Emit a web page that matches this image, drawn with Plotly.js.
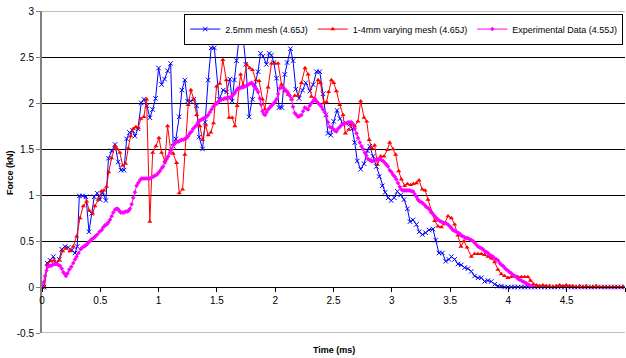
<!DOCTYPE html>
<html>
<head>
<meta charset="utf-8">
<script src="https://cdn.plot.ly/plotly-3.0.1.min.js"></script>
<style>html,body{margin:0;padding:0;background:#fff;}#chart{width:626px;height:358px;}</style>
</head>
<body>
<div id="chart"></div>
<script>
// ---------- DATA (time in ms, force in kN) ----------
var seriesNames = ['2.5mm mesh (4.65J)', '1-4mm varying mesh (4.65J)', 'Experimental Data (4.55J)'];

var meshTime = [0,0.017,0.045,0.069,0.097,0.120,0.148,0.169,0.197,0.225,
0.254,0.283,0.302,0.320,0.349,0.377,0.403,0.426,0.448,0.474,
0.497,0.520,0.548,0.570,0.597,0.626,0.654,0.677,0.703,0.726,
0.750,0.777,0.797,0.823,0.851,0.874,0.900,0.925,0.949,0.974,
1.000,1.026,1.051,1.077,1.103,1.125,1.148,1.177,1.200,1.225,
1.248,1.274,1.302,1.326,1.348,1.377,1.399,1.425,1.451,1.478,
1.519,1.554,1.583,1.611,1.631,1.650,1.668,1.697,1.725,1.748,
1.776,1.805,1.825,1.853,1.874,1.896,1.925,1.948,1.968,1.988,
2.011,2.033,2.057,2.082,2.102,2.131,2.153,2.177,2.205,2.234,
2.262,2.297,2.325,2.354,2.382,2.410,2.434,2.453,2.476,2.502,
2.530,2.556,2.582,2.611,2.639,2.661,2.682,2.704,2.733,2.762,
2.791,2.811,2.839,2.868,2.892,2.918,2.943,2.969,2.995,3.021,
3.048,3.076,3.105,3.134,3.156,3.182,3.211,3.236,3.262,3.290,
3.319,3.353,3.376,3.404,3.434,3.462,3.490,3.511,3.539,3.567,
3.596,3.625,3.653,3.682,3.710,3.739,3.768,3.796,3.824,3.853,
3.882,3.910,3.939,3.967,
3.996,4.025,4.053,4.082,4.111,4.139,4.167,4.196,4.225,4.253,
4.282,4.310,4.339,4.367,4.396,4.425,4.453,4.482,4.510,4.539,
4.567,4.596,4.625,4.653,4.682,4.710,4.739,4.767,4.796,4.825,
4.853,4.882,4.910,4.939,4.967,4.996];

var meshForce = [0,0,0.26,0.29,0.33,0.26,0.30,0.41,0.44,0.43,
0.40,0.37,0.44,0.99,0.99,0.98,0.60,0.80,0.98,1.02,
0.95,1.03,0.94,1.40,1.48,1.55,1.36,1.27,1.27,1.61,
1.68,1.70,1.64,1.72,2.00,2.04,1.97,1.84,1.93,2.05,
2.38,2.20,2.26,2.35,2.43,1.53,1.61,1.85,2.14,2.25,
2.02,2.02,2.04,1.97,1.63,1.50,1.79,2.25,2.60,2.60,
2.04,2.14,2.12,2.26,2.02,2.25,2.46,2.78,2.71,2.42,
1.85,2.04,2.20,2.34,2.54,2.51,2.42,2.54,2.52,2.44,
2.27,1.95,1.95,2.31,2.44,2.59,2.46,2.15,2.05,2.14,
2.22,2.13,2.20,2.34,2.34,2.10,1.87,1.67,1.65,1.80,
1.92,1.83,1.77,1.78,1.77,1.72,1.57,1.37,1.28,1.34,
1.48,1.53,1.42,1.31,1.20,1.10,1.03,0.97,0.94,0.97,
1.04,1.00,0.95,0.85,0.71,0.73,0.68,0.60,0.57,0.59,
0.62,0.63,0.51,0.37,0.37,0.28,0.30,0.33,0.30,0.25,
0.24,0.21,0.20,0.17,0.12,0.10,0.10,0.06,0.07,0.06,
0.03,0.01,0.01,0.00,
0,0,0,0,0,0,0,0,0,0,
0,0,0,0,0,0,0,0,0,0,
0,0,0,0,0,0,0,0,0,0,
0,0,0,0,0,0];

var varTime = [0,0.021,0.045,0.075,0.103,0.126,0.148,0.177,0.206,0.240,
0.268,0.297,0.326,0.354,0.383,0.405,0.434,0.454,0.482,0.512,
0.531,0.554,0.572,0.597,0.626,0.645,0.668,0.692,0.717,0.740,
0.760,0.782,0.805,0.825,0.848,0.874,0.897,0.925,0.949,0.977,
1.003,1.026,1.054,1.077,1.103,1.125,1.154,1.177,1.206,1.225,
1.254,1.277,1.302,1.326,1.354,1.377,1.403,1.425,1.448,1.471,
1.497,1.525,1.551,1.581,1.605,1.631,1.654,1.674,1.703,1.725,
1.754,1.782,1.805,1.834,1.862,1.891,1.911,1.939,1.968,1.997,
2.025,2.054,2.082,2.111,2.140,2.168,2.196,2.225,2.256,2.282,
2.311,2.339,2.368,2.388,2.416,2.440,2.459,2.482,2.502,2.525,
2.554,2.582,2.602,2.631,2.654,2.682,2.710,2.733,2.762,2.785,
2.806,2.828,2.853,2.877,2.905,2.933,2.962,2.982,3.010,3.033,
3.059,3.082,3.111,3.134,3.162,3.185,3.211,3.233,3.262,3.286,
3.310,3.339,3.368,3.396,3.425,3.453,3.482,3.511,3.539,3.567,
3.593,3.619,3.646,3.682,3.710,3.739,3.768,3.796,3.824,3.853,
3.882,3.910,3.939,3.967,3.996,4.025,4.053,4.082,4.111,4.139,
4.167,4.190,4.216,4.242,4.267,
4.296,4.325,4.353,4.382,4.410,4.439,4.467,4.496,4.525,4.553,
4.582,4.610,4.639,4.667,4.696,4.725,4.753,4.782,4.810,4.839,
4.867,4.896,4.925,4.953,4.982];

var varForce = [0,0,0.24,0.28,0.29,0.25,0.29,0.39,0.42,0.39,
0.44,0.55,0.75,0.88,0.93,0.83,0.80,0.88,0.95,1.04,
1.05,1.09,1.25,1.40,1.53,1.50,1.46,1.32,1.34,1.51,
1.64,1.72,1.74,1.73,1.83,1.85,2.04,0.71,1.46,1.53,
1.62,1.46,1.37,1.75,1.49,1.45,1.35,1.02,1.06,1.44,
1.98,2.14,2.04,1.87,1.75,1.60,1.76,1.65,1.68,1.78,
2.18,2.21,2.47,2.25,1.84,1.84,1.75,1.97,2.31,2.19,
2.42,2.38,2.36,2.25,2.24,2.04,1.93,2.17,2.43,2.43,
2.43,2.20,2.13,2.09,2.04,2.08,2.08,2.22,2.38,2.31,
2.07,2.05,2.25,2.22,2.00,2.01,2.12,2.25,2.22,2.13,
1.98,1.87,1.67,1.71,1.76,1.75,1.80,2.02,1.84,1.80,
1.60,1.51,1.54,1.33,1.42,1.42,1.49,1.57,1.50,1.44,
1.26,1.17,1.10,1.12,1.11,1.12,1.13,1.16,1.06,1.05,
0.95,0.82,0.72,0.66,0.65,0.69,0.77,0.75,0.68,0.56,
0.44,0.50,0.43,0.33,0.36,0.36,0.36,0.35,0.33,0.31,
0.27,0.19,0.14,0.12,0.10,0.11,0.12,0.11,0.11,0.11,
0.11,0.07,0.03,0.02,0.01,
0.02,0.01,0.01,0.00,0.01,0.02,0.01,0.02,0.01,0.01,
0.00,0.01,0.00,0.01,0.00,0.00,0.01,0.00,0.00,0.00,
0.00,0.00,0.00,0.00,0.00];

var expTime = [0,0.013,0.026,0.039,0.051,0.064,0.077,0.090,0.103,0.116,
0.129,0.140,0.154,0.169,0.183,0.195,0.206,0.220,0.234,0.251,
0.268,0.283,0.297,0.314,0.332,0.345,0.360,0.371,0.383,0.397,
0.411,0.426,0.440,0.457,0.474,0.493,0.512,0.525,0.540,0.554,
0.568,0.583,0.597,0.611,0.626,0.637,0.649,0.662,0.674,0.688,
0.703,0.717,0.731,0.743,0.754,0.769,0.782,0.797,0.811,0.825,
0.840,0.854,0.868,0.883,0.897,0.911,0.925,0.940,0.954,0.968,
0.983,0.997,1.011,1.026,1.039,1.054,1.069,1.082,1.097,1.111,
1.125,1.140,1.154,1.168,1.183,1.197,1.211,1.225,1.240,1.254,
1.268,1.283,1.296,1.311,1.326,1.339,1.354,1.368,1.382,1.397,
1.411,1.425,1.440,1.454,1.468,1.482,1.497,1.511,1.525,1.540,
1.554,1.568,1.583,1.596,1.611,1.626,1.639,1.654,1.668,1.682,
1.697,1.711,1.725,1.739,1.754,1.768,1.782,1.797,1.811,1.825,
1.840,1.853,1.868,1.879,1.891,1.902,1.913,1.925,1.939,1.954,
1.968,1.982,1.997,2.011,2.025,2.039,2.054,2.068,2.082,2.097,
2.111,2.125,2.140,2.153,2.168,2.183,2.196,2.211,2.225,2.239,
2.254,2.268,2.282,2.296,2.311,2.325,2.339,2.354,2.368,2.382,
2.397,2.410,2.425,2.440,2.453,2.468,2.482,2.496,2.511,2.525,
2.539,2.554,2.568,2.582,2.596,2.611,2.625,2.639,2.654,2.668,
2.682,2.697,2.710,2.725,2.740,2.753,2.768,2.782,2.796,2.811,
2.825,2.839,2.853,2.868,2.882,2.896,2.911,2.925,2.939,2.954,
2.967,2.982,2.997,3.010,3.025,3.039,3.053,3.068,3.082,3.096,
3.111,3.125,3.139,3.153,3.168,3.182,3.196,3.211,3.224,3.239,
3.254,3.267,3.282,3.296,3.310,3.325,3.339,3.353,3.368,3.382,
3.396,3.410,3.425,3.439,3.453,3.468,3.482,3.496,3.511,3.524,
3.539,3.554,3.567,3.582,3.596,3.610,3.625,3.639,3.653,3.668,
3.682,3.696,3.710,3.725,3.739,3.754,3.768,3.782,3.796,3.811,
3.824,3.839,3.853,3.867,3.882,3.896,3.910,3.925,3.940,3.953,
3.967,3.982,3.996,4.010,4.025,4.039,4.053,4.068,4.082,4.096,
4.111,4.124,4.139,4.153,4.167,4.182,4.196,4.210];

var expForce = [0,0.05,0.12,0.18,0.22,0.23,0.23,0.24,0.25,0.25,
0.25,0.24,0.23,0.20,0.16,0.14,0.12,0.15,0.19,0.22,
0.26,0.30,0.33,0.37,0.41,0.43,0.44,0.45,0.46,0.48,
0.50,0.52,0.53,0.55,0.57,0.60,0.62,0.65,0.67,0.68,
0.70,0.73,0.77,0.81,0.84,0.85,0.85,0.83,0.81,0.81,
0.81,0.82,0.82,0.83,0.85,0.90,0.97,1.03,1.10,1.13,
1.16,1.18,1.18,1.18,1.18,1.18,1.18,1.19,1.20,1.21,
1.22,1.24,1.26,1.29,1.31,1.35,1.39,1.42,1.46,1.50,
1.54,1.56,1.58,1.58,1.59,1.60,1.60,1.61,1.62,1.64,
1.67,1.69,1.72,1.74,1.76,1.79,1.81,1.82,1.83,1.84,
1.85,1.87,1.90,1.93,1.96,1.98,1.99,2.01,2.03,2.04,
2.04,2.05,2.05,2.06,2.06,2.07,2.09,2.11,2.14,2.16,
2.16,2.17,2.17,2.18,2.19,2.20,2.21,2.22,2.20,2.17,
2.15,2.12,2.05,1.98,1.91,1.88,1.87,1.90,1.93,1.95,
1.97,1.99,2.01,2.04,2.10,2.16,2.17,2.17,2.15,2.13,
2.11,2.08,2.04,1.96,1.89,1.87,1.85,1.86,1.87,1.91,
1.95,1.94,1.93,1.97,2.00,2.02,2.04,2.02,2.00,1.98,
1.96,1.93,1.90,1.86,1.79,1.74,1.73,1.72,1.70,1.69,
1.72,1.74,1.76,1.77,1.78,1.78,1.79,1.79,1.79,1.77,
1.72,1.67,1.62,1.57,1.53,1.50,1.46,1.43,1.39,1.38,
1.37,1.37,1.38,1.38,1.39,1.39,1.38,1.37,1.35,1.33,
1.31,1.27,1.25,1.22,1.20,1.17,1.13,1.09,1.06,1.05,
1.05,1.05,1.05,1.05,1.04,1.04,1.01,0.98,0.95,0.93,
0.92,0.91,0.89,0.87,0.86,0.84,0.81,0.79,0.77,0.75,
0.73,0.72,0.71,0.70,0.69,0.69,0.68,0.66,0.64,0.62,
0.61,0.60,0.59,0.58,0.56,0.55,0.54,0.53,0.53,0.52,
0.51,0.50,0.48,0.46,0.44,0.43,0.42,0.41,0.39,0.38,
0.37,0.35,0.34,0.33,0.31,0.30,0.29,0.26,0.24,0.23,
0.21,0.19,0.18,0.16,0.15,0.13,0.12,0.11,0.09,0.08,
0.07,0.06,0.05,0.04,0.03,0.02,0.01,0.00];

var xTickVals = [0,0.5,1,1.5,2,2.5,3,3.5,4,4.5,5];
var xTickText = ['0','0.5','1','1.5','2','2.5','3','3.5','4','4.5','5'];
var yTickVals = [-0.5,0,0.5,1,1.5,2,2.5,3];
var yTickText = ['-0.5','0','0.5','1','1.5','2','2.5','3'];

// ---------- CHART ----------
var FONT = 'Liberation Sans, Arial, Helvetica, sans-serif';

var traces = [
  {x: meshTime, y: meshForce, name: seriesNames[0], type: 'scatter', mode: 'lines+markers',
   line: {color: '#0000FF', width: 1},
   marker: {symbol: 'x-thin', size: 4.5, color: '#0000FF', line: {color: '#0000FF', width: 1}}},
  {x: varTime, y: varForce, name: seriesNames[1], type: 'scatter', mode: 'lines+markers',
   line: {color: '#FF0000', width: 1},
   marker: {symbol: 'triangle-up', size: 4.5, color: '#FF0000'}},
  {x: expTime, y: expForce, name: seriesNames[2], type: 'scatter', mode: 'lines+markers',
   line: {color: '#FF00FF', width: 1},
   marker: {symbol: 'diamond', size: 3.5, color: '#FF00FF'}}
];

var layout = {
  width: 626, height: 358,
  margin: {l: 42, r: 1, t: 11, b: 25, pad: 0},
  paper_bgcolor: '#ffffff', plot_bgcolor: '#ffffff',
  font: {family: FONT, size: 10, color: '#000000'},
  showlegend: true,
  legend: {
    orientation: 'h', x: 0.997, y: 0.992, xanchor: 'right', yanchor: 'top',
    bgcolor: '#ffffff', bordercolor: '#000000', borderwidth: 1,
    font: {family: FONT, size: 9, color: '#000000'},
    itemwidth: 30, tracegroupgap: 0
  },
  xaxis: {
    range: [0, 5], tickmode: 'array', tickvals: xTickVals, ticktext: xTickText,
    anchor: 'free', position: 0.5 / 3.5,
    showgrid: false, zeroline: false,
    showline: true, linecolor: '#000000', linewidth: 1,
    ticks: 'outside', ticklen: 4, tickcolor: '#000000', tickwidth: 1,
    tickfont: {family: FONT, size: 10, color: '#000000'}
  },
  yaxis: {
    range: [-0.5, 3], tickmode: 'array', tickvals: yTickVals, ticktext: yTickText,
    showgrid: true, gridcolor: '#000000', gridwidth: 1, zeroline: false,
    showline: true, linecolor: '#808080', linewidth: 2,
    ticks: 'outside', ticklen: 4, tickcolor: '#808080', tickwidth: 1,
    tickfont: {family: FONT, size: 10, color: '#000000'}
  },
  shapes: [
    {type: 'line', xref: 'paper', yref: 'y', x0: 0, x1: 1, y0: 3, y1: 3, layer: 'between',
     line: {color: '#808080', width: 1}},
    {type: 'line', xref: 'paper', yref: 'y', x0: 0, x1: 1, y0: -0.5, y1: -0.5, layer: 'between',
     line: {color: '#808080', width: 1}}
  ],
  annotations: [
    {text: '<b>Time (ms)</b>', xref: 'paper', yref: 'paper', x: 0.5, y: -0.053,
     xanchor: 'center', yanchor: 'middle', showarrow: false,
     font: {family: FONT, size: 9, color: '#000000'}},
    {text: '<b>Force (kN)</b>', xref: 'paper', yref: 'paper', x: -0.055, y: 0.5,
     xanchor: 'center', yanchor: 'middle', showarrow: false, textangle: -90,
     font: {family: FONT, size: 9, color: '#000000'}}
  ]
};

Plotly.newPlot('chart', traces, layout, {displayModeBar: false, staticPlot: true});
</script>
</body>
</html>
